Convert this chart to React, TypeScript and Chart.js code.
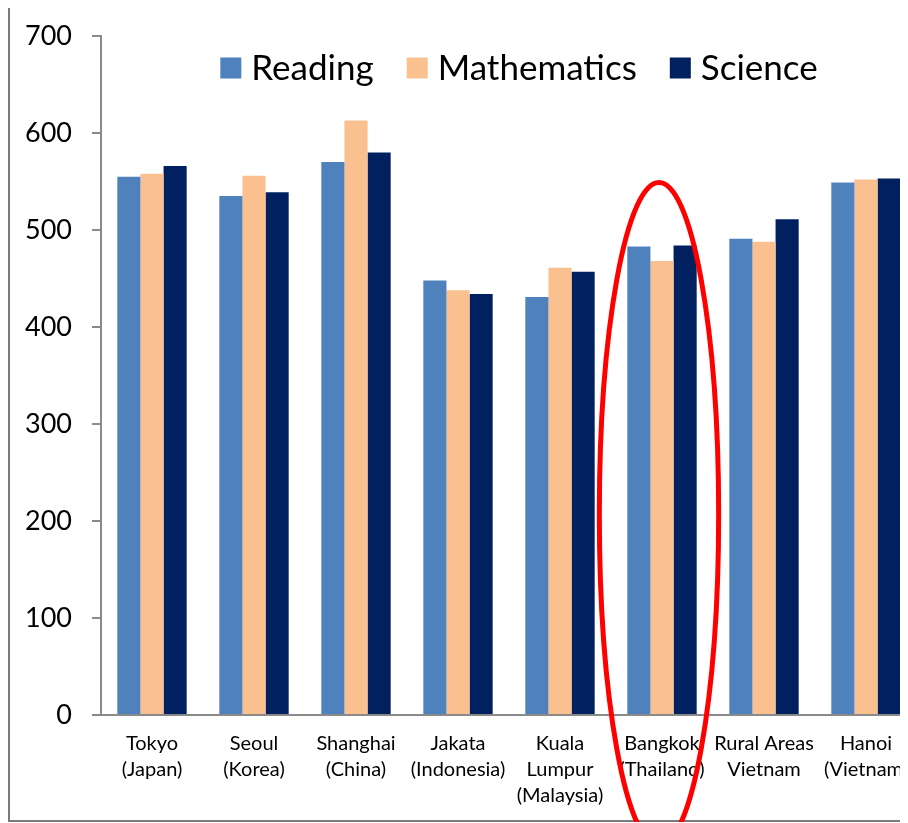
import React, { useEffect, useRef } from "react";
import { Chart, registerables } from "chart.js";

Chart.register(...registerables);

const categories: string[][] = [
  ["Tokyo", "(Japan)"],
  ["Seoul", "(Korea)"],
  ["Shanghai", "(China)"],
  ["Jakata", "(Indonesia)"],
  ["Kuala", "Lumpur", "(Malaysia)"],
  ["Bangkok", "(Thailand)"],
  ["Rural Areas", "Vietnam"],
  ["Hanoi", "(Vietnam)"],
];

const seriesNames = ["Reading", "Mathematics", "Science"];
const reading = [555, 535, 570, 448, 431, 483, 491, 549];
const mathematics = [558, 556, 613, 438, 461, 468, 488, 552];
const science = [566, 539, 580, 434, 457, 484, 511, 553];
const seriesColors = ["#4F81BD", "#FAC090", "#002060"];

const yTicks = [0, 100, 200, 300, 400, 500, 600, 700];

// highlight ellipse (hand-drawn annotation) anchored to a category, in value units
const highlightCategory = 5;
const highlightTopValue = 549;
const highlightCenterValue = 207;

const W = 930;
const H = 816;
const FONT = "Lato, 'Open Sans', sans-serif";
const AXIS_GRAY = "#8a8a8a";

const framePlugin = {
  id: "frame",
  beforeDraw(chart: any) {
    const ctx = chart.ctx;
    ctx.save();
    ctx.fillStyle = "#ffffff";
    ctx.fillRect(0, 0, chart.width, chart.height);
    ctx.strokeStyle = "#7a7a7a";
    ctx.lineWidth = 2;
    ctx.strokeRect(1, 1, chart.width - 2, chart.height - 2);
    ctx.restore();
  },
};

const legendPlugin = {
  id: "customLegend",
  afterDraw(chart: any) {
    const ctx = chart.ctx;
    const area = chart.chartArea;
    ctx.save();
    ctx.font = `35px ${FONT}`;
    ctx.textBaseline = "middle";
    const box = 21;
    const gapText = 10;
    const gapItem = 33;
    const items = chart.data.datasets.map((d: any) => ({
      label: d.label,
      color: d.backgroundColor,
      w: ctx.measureText(d.label).width,
    }));
    const total =
      items.reduce((s: number, it: any) => s + box + gapText + it.w, 0) +
      gapItem * (items.length - 1);
    let x = area.left + (area.right - area.left - total) / 2 + 10;
    const cy = area.top + 32;
    items.forEach((it: any) => {
      ctx.fillStyle = it.color;
      ctx.fillRect(x, cy - box / 2, box, box);
      ctx.fillStyle = "#000000";
      ctx.fillText(it.label, x + box + gapText, cy + 1);
      x += box + gapText + it.w + gapItem;
    });
    ctx.restore();
  },
};

const ellipsePlugin = {
  id: "highlightEllipse",
  afterDraw(chart: any) {
    const xs = chart.scales.x;
    const ys = chart.scales.y;
    const cx = xs.getPixelForValue(highlightCategory);
    const catW = xs.getPixelForValue(1) - xs.getPixelForValue(0);
    const cy = ys.getPixelForValue(highlightCenterValue);
    const ry = cy - ys.getPixelForValue(highlightTopValue);
    const rx = catW * 0.585;
    const ctx = chart.ctx;
    ctx.save();
    ctx.strokeStyle = "#ff0000";
    ctx.lineWidth = 5;
    ctx.beginPath();
    ctx.ellipse(cx - 3, cy, rx, ry, 0, 0, Math.PI * 2);
    ctx.stroke();
    ctx.restore();
  },
};

export default function App() {
  const ref = useRef<HTMLCanvasElement | null>(null);

  useEffect(() => {
    if (!ref.current) return;
    const chart = new Chart(ref.current, {
      type: "bar",
      data: {
        labels: categories,
        datasets: [
          { label: seriesNames[0], data: reading, backgroundColor: seriesColors[0] },
          { label: seriesNames[1], data: mathematics, backgroundColor: seriesColors[1] },
          { label: seriesNames[2], data: science, backgroundColor: seriesColors[2] },
        ],
      },
      options: {
        animation: false,
        responsive: false,
        maintainAspectRatio: false,
        devicePixelRatio: 1,
        layout: { padding: { left: 0, top: 30, right: W - 909, bottom: 0 } },
        datasets: {
          bar: { categoryPercentage: 0.68, barPercentage: 1, borderWidth: 0 },
        },
        plugins: {
          legend: { display: false },
          tooltip: { enabled: false },
          title: { display: false },
        },
        scales: {
          x: {
            grid: { display: false },
            border: { display: true, color: AXIS_GRAY, width: 2 },
            ticks: {
              font: { family: FONT, size: 20, lineHeight: "26px" },
              color: "#000000",
              padding: 8,
              maxRotation: 0,
              autoSkip: false,
            },
            afterFit(axis: any) {
              axis.height = H - 709;
              axis.paddingLeft = 0;
              axis.paddingRight = 0;
            },
          },
          y: {
            min: 0,
            max: 700,
            afterBuildTicks(axis: any) {
              axis.ticks = yTicks.map((v) => ({ value: v }));
            },
            grid: {
              display: true,
              drawOnChartArea: false,
              drawTicks: true,
              tickLength: 9,
              color: AXIS_GRAY,
              lineWidth: 2,
            },
            border: { display: true, color: AXIS_GRAY, width: 2 },
            ticks: {
              font: { family: FONT, size: 27 },
              color: "#000000",
              padding: 20,
            },
            afterFit(axis: any) {
              axis.width = 93;
              axis.paddingTop = 0;
              axis.paddingBottom = 0;
            },
          },
        },
      },
      plugins: [framePlugin, legendPlugin, ellipsePlugin],
    } as any);
    return () => chart.destroy();
  }, []);

  return (
    <div style={{ width: 900, height: H, overflow: "hidden", marginTop: -2, position: "relative" }}>
      <canvas ref={ref} width={W} height={H} style={{ display: "block", width: W, height: H }} />
    </div>
  );
}
